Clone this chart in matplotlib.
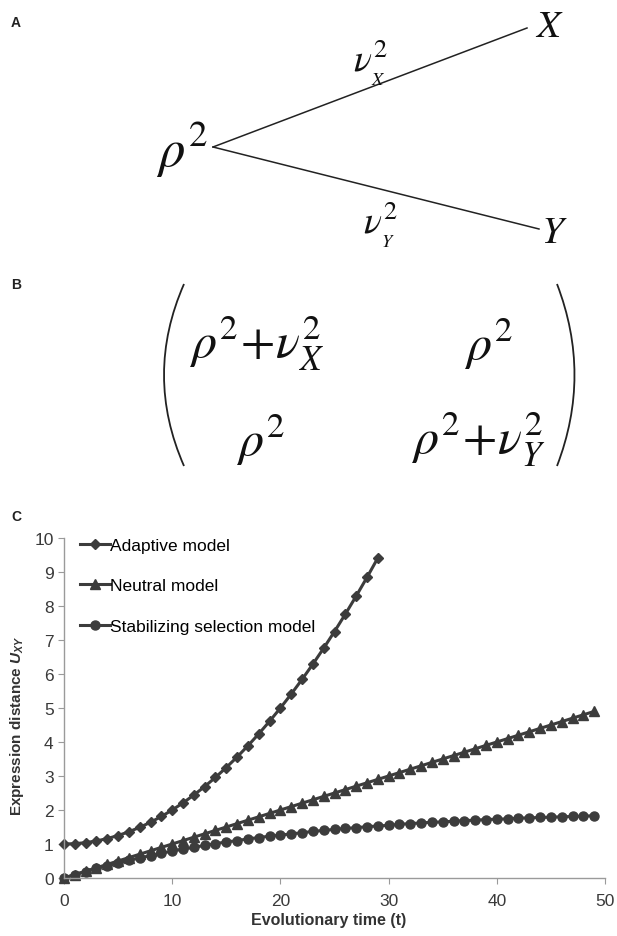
import matplotlib
matplotlib.use("Agg")
import matplotlib.pyplot as plt
from matplotlib.path import Path
from matplotlib.patches import PathPatch

plt.rcParams['font.family'] = ['Liberation Sans', 'DejaVu Sans']
plt.rcParams['mathtext.fontset'] = 'custom'
plt.rcParams['mathtext.rm'] = 'Liberation Sans:bold'
plt.rcParams['mathtext.it'] = 'Liberation Sans:italic:bold'
plt.rcParams['mathtext.bf'] = 'Liberation Sans:bold'

# data
time_adaptive = list(range(30))
adaptive = [1.00, 1.01, 1.04, 1.09, 1.16, 1.25, 1.36, 1.49, 1.64, 1.81,
            2.00, 2.21, 2.44, 2.69, 2.96, 3.25, 3.56, 3.89, 4.24, 4.61,
            5.00, 5.41, 5.84, 6.29, 6.76, 7.25, 7.76, 8.29, 8.84, 9.41]
time_long = list(range(50))
neutral = [0.0, 0.1, 0.2, 0.3, 0.4, 0.5, 0.6, 0.7, 0.8, 0.9,
           1.0, 1.1, 1.2, 1.3, 1.4, 1.5, 1.6, 1.7, 1.8, 1.9,
           2.0, 2.1, 2.2, 2.3, 2.4, 2.5, 2.6, 2.7, 2.8, 2.9,
           3.0, 3.1, 3.2, 3.3, 3.4, 3.5, 3.6, 3.7, 3.8, 3.9,
           4.0, 4.1, 4.2, 4.3, 4.4, 4.5, 4.6, 4.7, 4.8, 4.9]
stabilizing = [0.00, 0.10, 0.19, 0.28, 0.36, 0.44, 0.52, 0.59, 0.66, 0.73,
               0.79, 0.85, 0.90, 0.96, 1.01, 1.06, 1.10, 1.15, 1.19, 1.23,
               1.26, 1.30, 1.33, 1.37, 1.40, 1.43, 1.46, 1.48, 1.51, 1.53,
               1.55, 1.58, 1.60, 1.62, 1.64, 1.65, 1.67, 1.69, 1.70, 1.72,
               1.73, 1.74, 1.76, 1.77, 1.78, 1.79, 1.80, 1.81, 1.82, 1.83]
labels = ["Adaptive model", "Neutral model", "Stabilizing selection model"]

W, H = 617, 937
fig = plt.figure(figsize=(W / 100, H / 100), dpi=100)

# overlay in pixel coordinates for panels A and B
ov = fig.add_axes([0, 0, 1, 1])
ov.set_xlim(0, W)
ov.set_ylim(H, 0)
ov.axis('off')

ink = '#111111'
for lab, y in [("A", 23), ("B", 285), ("C", 517)]:
    ov.text(11, y, lab, fontsize=10, fontweight='bold', color='#222222', va='center', ha='left')

# panel A: tree
ov.plot([213, 527], [148, 29], color='#222222', lw=1.1)
ov.plot([213, 539], [148, 230], color='#222222', lw=1.1)
ov.text(182, 150, r"$\rho^2$", fontsize=38, ha='center', va='center', color=ink, math_fontfamily='stix')
ov.text(549, 27, r"$X$", fontsize=28, ha='center', va='center', color=ink, math_fontfamily='stix')
ov.text(554, 233, r"$Y$", fontsize=28, ha='center', va='center', color=ink, math_fontfamily='stix')
ov.text(370, 63, r"$\nu^2_{_X}$", fontsize=27, ha='center', va='center', color=ink, math_fontfamily='stix')
ov.text(380, 225, r"$\nu^2_{_Y}$", fontsize=27, ha='center', va='center', color=ink, math_fontfamily='stix')

# panel B: matrix
for xs in [(184, 144, 184), (557, 592, 557)]:
    verts = [(xs[0], 285), (xs[1], 376), (xs[2], 467)]
    ov.add_patch(PathPatch(Path(verts, [Path.MOVETO, Path.CURVE3, Path.CURVE3]),
                           fill=False, lw=1.3, color='#222222'))
mfs = 36
ov.text(257, 344, r"$\rho^2\!+\!\nu^2_X$", fontsize=mfs, ha='center', va='center', color=ink, math_fontfamily='stix')
ov.text(488, 344, r"$\rho^2$", fontsize=mfs, ha='center', va='center', color=ink, math_fontfamily='stix')
ov.text(260, 440, r"$\rho^2$", fontsize=mfs, ha='center', va='center', color=ink, math_fontfamily='stix')
ov.text(478, 440, r"$\rho^2\!+\!\nu^2_Y$", fontsize=mfs, ha='center', va='center', color=ink, math_fontfamily='stix')

# panel C: chart
x0, x1, y0, y1 = 64, 605, 539, 879
ax = fig.add_axes([x0 / W, 1 - y1 / H, (x1 - x0) / W, (y1 - y0) / H])
ax.patch.set_alpha(0)
c = '#3c3c3c'
ax.plot(time_adaptive, adaptive, color=c, lw=2.2, marker='D', ms=5.5, label=labels[0], clip_on=False)
ax.plot(time_long, neutral, color=c, lw=2.2, marker='^', ms=6.5, label=labels[1], clip_on=False)
ax.plot(time_long, stabilizing, color=c, lw=2.2, marker='o', ms=6.5, label=labels[2], clip_on=False)

ax.set_xlim(0, 50)
ax.set_ylim(0, 10)
ax.set_xticks([0, 10, 20, 30, 40, 50])
ax.set_yticks(range(11))
for s in ['top', 'right']:
    ax.spines[s].set_visible(False)
for s in ['left', 'bottom']:
    ax.spines[s].set_color('#9a9a9a')
    ax.spines[s].set_linewidth(1.0)
ax.tick_params(colors='#9a9a9a', labelcolor='#3a3a3a', labelsize=12.5, length=4, direction='out')
ax.tick_params(axis='x', pad=7)
ax.set_xlabel("Evolutionary time (t)", fontsize=11.5, fontweight='bold', color='#333333')
ax.set_ylabel(r"Expression distance $U_{XY}$", fontsize=11, fontweight='bold', color='#333333')
ax.xaxis.set_label_coords(0.49, -0.1)
ax.yaxis.set_label_coords(-0.07, 0.45)

ax.legend(loc='upper left', frameon=False, fontsize=12.5, handlelength=1.7, handletextpad=0.05,
          labelspacing=1.45, borderaxespad=0, borderpad=0, bbox_to_anchor=((80 - x0) / (x1 - x0), 1.0))

fig.savefig("out.png", dpi=100)
